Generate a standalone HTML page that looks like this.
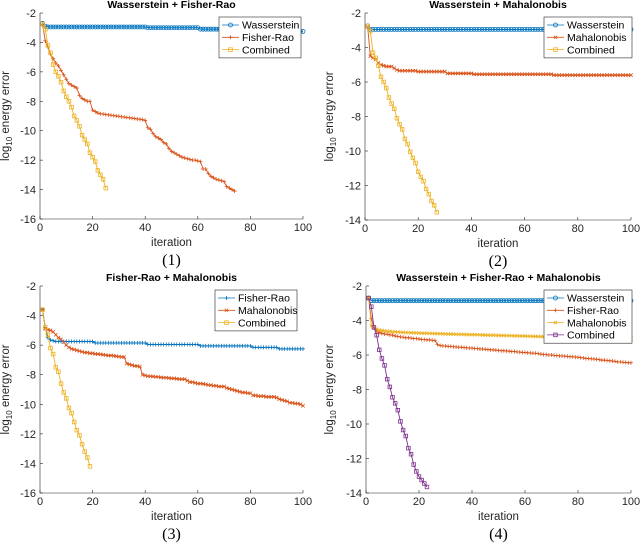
<!DOCTYPE html>
<html><head><meta charset="utf-8"><style>
body{margin:0;background:#fff;width:640px;height:546px;overflow:hidden}
svg{display:block}
text{font-family:"Liberation Sans",sans-serif}
</style></head><body>
<svg id="fig" width="640" height="546" viewBox="0 0 640 546" xmlns="http://www.w3.org/2000/svg"></svg>
<script>
const xTicks=[0,20,40,60,80,100];
const yTicksA=[-2,-4,-6,-8,-10,-12,-14,-16];
const yTicksB=[-2,-4,-6,-8,-10,-12,-14];
function rep(v,n){return Array(n).fill(v);}
// Panel 1
const p1Wass=[-2.7,-2.9].concat(rep(-2.95,38),rep(-3.0,20),rep(-3.1,20),rep(-3.15,10),rep(-3.25,10));
const p1Fisher=[-2.8,-3.9,-4.3,-4.8,-5.1,-5.4,-5.6,-5.9,-6.2,-6.5,-6.8,-6.9,-7.0,-7.1,-7.6,-7.8,-7.9,-8.0,-8.0,-8.6,-8.7,-8.8,-8.85,
-8.87,-8.9,-8.92,-8.95,-8.97,-9.0,-9.02,-9.05,-9.07,-9.1,-9.12,-9.15,-9.17,-9.2,-9.22,-9.25,-9.3,
-9.8,-9.9,-10.2,-10.4,-10.5,-10.6,-10.8,-10.9,-11.2,-11.4,-11.5,-11.6,-11.7,-11.8,-11.85,-11.9,-11.95,-12.0,-12.0,-12.05,-12.1,
-12.6,-12.6,-12.9,-13.1,-13.2,-13.3,-13.35,-13.4,-13.45,-13.8,-13.9,-14.0,-14.1];
const p1Comb=[-2.75,-3.1,-4.2,-4.7,-5.5,-6.0,-6.3,-6.7,-7.3,-7.7,-8.0,-8.4,-9.0,-9.3,-9.7,-10.3,-10.6,-10.9,-11.5,-11.8,-12.1,-12.7,-13.0,-13.3,-13.9];
// Panel 2
const p2Wass=[-2.75].concat(rep(-2.95,99));
const p2Maha=[-2.8,-4.5,-4.6,-4.7,-4.9,-5.0,-5.05,-5.1,-5.1,-5.1,-5.2,-5.3].concat(rep(-5.35,7),rep(-5.4,11),rep(-5.5,10),rep(-5.55,30),rep(-5.6,30));
const p2Comb=[-2.75,-3.05,-4.3,-4.6,-5.05,-5.7,-6.0,-6.35,-6.9,-7.25,-7.55,-8.1,-8.45,-8.75,-9.3,-9.6,-10.05,-10.4,-10.7,-11.2,-11.5,-11.75,-12.2,-12.5,-12.9,-13.15,-13.55];
// Panel 3
const p3Fisher=[-3.6,-4.8,-5.5,-5.65,-5.7].concat(rep(-5.75,15),rep(-5.85,20),rep(-5.95,20),rep(-6.05,20),rep(-6.15,10),rep(-6.25,10));
const p3Maha=[-3.6,-4.9,-4.95,-5.0,-5.1,-5.3,-5.5,-5.6,-5.8,-6.0,-6.15,-6.25,-6.3,-6.35,-6.4,-6.45,-6.5,-6.5,-6.55,
-6.55,-6.6,-6.6,-6.62,-6.65,-6.67,-6.7,-6.7,-6.72,-6.75,-6.77,-6.8,-6.8,
-7.25,-7.3,-7.35,-7.4,-7.42,-7.45,
-8.0,-8.05,-8.1,-8.1,-8.12,-8.15,-8.15,-8.18,-8.2,-8.2,-8.22,-8.25,-8.25,-8.27,-8.3,-8.3,-8.3,
-8.4,-8.5,-8.5,-8.55,-8.6,-8.6,-8.62,-8.65,-8.7,-8.7,-8.75,-8.75,-8.8,-8.8,-8.8,
-8.9,-8.95,-9.0,-9.05,-9.1,-9.15,-9.2,-9.2,-9.25,-9.25,
-9.4,-9.4,-9.45,-9.45,-9.45,-9.5,-9.5,-9.5,-9.5,-9.55,
-9.65,-9.7,-9.75,-9.8,-9.9,-9.9,-9.95,-9.95,-10.0,-10.1];
const p3Comb=[-3.6,-4.8,-5.3,-6.2,-6.6,-7.5,-7.8,-8.6,-9.2,-9.6,-10.25,-10.6,-11.2,-11.75,-12.1,-12.7,-13.2,-13.6,-14.2];
// Panel 4
const p4Wass=[-2.7].concat(rep(-2.85,99));
const p4Fisher=[-2.7,-3.9,-4.4,-4.6,-4.7,-4.75,-4.78,-4.8,-4.83,-4.85,
-4.9,-4.92,-4.95,-4.97,-5.0,-5.0,-5.02,-5.05,-5.05,-5.07,-5.1,-5.1,-5.12,-5.12,-5.15,-5.15,
-5.4,-5.45,-5.47,-5.48,-5.5,-5.5,-5.52,-5.53,-5.55,-5.55,
-5.57,-5.58,-5.6,-5.6,-5.62,-5.63,-5.65,-5.65,-5.67,-5.68,
-5.7,-5.7,-5.72,-5.73,-5.75,-5.75,-5.77,-5.78,-5.8,-5.8,
-5.82,-5.83,-5.85,-5.85,-5.87,-5.88,-5.9,-5.9,-5.92,-5.95,
-5.97,-5.98,-6.0,-6.0,-6.02,-6.03,-6.05,-6.05,-6.07,-6.08,
-6.1,-6.1,-6.12,-6.13,-6.15,-6.17,-6.2,-6.2,-6.22,-6.23,
-6.25,-6.27,-6.3,-6.3,-6.32,-6.33,-6.35,-6.37,-6.4,-6.4,
-6.42,-6.43,-6.45,-6.45];
const p4Maha=[-2.7,-4.3,-4.4,-4.5,-4.55,-4.58,-4.6,-4.62,-4.63,-4.65,
-4.66,-4.67,-4.68,-4.69,-4.7,-4.7,-4.71,-4.72,-4.72,-4.73,
-4.73,-4.74,-4.74,-4.75,-4.75,-4.76,-4.76,-4.77,-4.77,-4.78,
-4.78,-4.79,-4.79,-4.8,-4.8,-4.8,-4.81,-4.81,-4.82,-4.82,
-4.82,-4.83,-4.83,-4.84,-4.84,-4.85,-4.85,-4.85,-4.86,-4.86,
-4.87,-4.87,-4.88,-4.88,-4.88,-4.89,-4.89,-4.9,-4.9,-4.9,
-4.91,-4.91,-4.92,-4.92,-4.93,-4.93,-4.94,-4.94,-4.95,-4.95,
-4.96,-4.96,-4.97,-4.97,-4.98,-4.98,-4.99,-4.99,-5.0,-5.0,
-5.0,-5.01,-5.01,-5.02,-5.02,-5.02,-5.03,-5.03,-5.03,-5.04,
-5.04,-5.04,-5.04,-5.05,-5.05,-5.05,-5.05,-5.06,-5.06,-5.06];
const p4Comb=[-2.7,-3.2,-4.4,-4.85,-5.7,-6.2,-6.6,-7.4,-7.85,-8.45,-8.8,-9.2,-9.85,-10.35,-10.7,-11.4,-11.75,-12.35,-12.75,-13.05,-13.25,-13.45,-13.65];

const BLUE="#0072BD",ORANGE="#D95319",YELLOW="#EDB120",PURPLE="#7E2F8E";
const NS="http://www.w3.org/2000/svg";
const svg=document.getElementById('fig');
function mk(tag,attrs,parent){const e=document.createElementNS(NS,tag);for(const k in attrs)e.setAttribute(k,attrs[k]);(parent||svg).appendChild(e);return e;}

const panels=[
 {id:'1',title:'Wasserstein + Fisher-Rao',L:40,R:303,T:13,B:219,ymin:-16,yticks:yTicksA,ylx:9,
  legend:{x:219,y:17,w:82},
  series:[{n:'Wasserstein',d:p1Wass,c:BLUE,m:'o'},{n:'Fisher-Rao',d:p1Fisher,c:ORANGE,m:'+'},{n:'Combined',d:p1Comb,c:YELLOW,m:'s'}]},
 {id:'2',title:'Wasserstein + Mahalonobis',L:365,R:631,T:13,B:220,ymin:-14,yticks:yTicksB,ylx:333,
  legend:{x:544,y:17,w:88},
  series:[{n:'Wasserstein',d:p2Wass,c:BLUE,m:'o'},{n:'Mahalonobis',d:p2Maha,c:ORANGE,m:'x'},{n:'Combined',d:p2Comb,c:YELLOW,m:'s'}]},
 {id:'3',title:'Fisher-Rao + Mahalonobis',L:40,R:303,T:286,B:493,ymin:-16,yticks:yTicksA,ylx:9,
  legend:{x:215,y:290,w:82},
  series:[{n:'Fisher-Rao',d:p3Fisher,c:BLUE,m:'+'},{n:'Mahalonobis',d:p3Maha,c:ORANGE,m:'x'},{n:'Combined',d:p3Comb,c:YELLOW,m:'s'}]},
 {id:'4',title:'Wasserstein + Fisher-Rao + Mahalonobis',L:366,R:631,T:286,B:493,ymin:-14,yticks:yTicksB,ylx:333,
  legend:{x:544,y:290,w:88},
  series:[{n:'Wasserstein',d:p4Wass,c:BLUE,m:'o'},{n:'Fisher-Rao',d:p4Fisher,c:ORANGE,m:'+'},{n:'Mahalonobis',d:p4Maha,c:YELLOW,m:'x'},{n:'Combined',d:p4Comb,c:PURPLE,m:'s'}]}
];

function marker(g,m,x,y,c){
  let e;
  if(m==='o')e=mk('circle',{cx:x,cy:y,r:2,fill:'none',stroke:c,'stroke-width':0.8},g);
  else if(m==='s')e=mk('rect',{x:x-1.8,y:y-1.8,width:3.6,height:3.6,fill:'none',stroke:c,'stroke-width':0.8},g);
  else if(m==='+')e=mk('path',{d:`M${x-2},${y}H${x+2}M${x},${y-2}V${y+2}`,stroke:c,'stroke-width':0.8},g);
  else e=mk('path',{d:`M${x-1.7},${y-1.7}L${x+1.7},${y+1.7}M${x-1.7},${y+1.7}L${x+1.7},${y-1.7}`,stroke:c,'stroke-width':0.8},g);
  
  
}

panels.forEach(p=>{
  const g=mk('g',{});
  
  
  const xs=v=>p.L+(v-0)/100*(p.R-p.L);
  const ys=v=>p.T+(-2-v)/(-2-p.ymin)*(p.B-p.T);
  const ax=mk('path',{d:`M${p.L},${p.T}V${p.B}H${p.R}`,fill:'none',stroke:'#262626','stroke-width':0.6},g);
  
  
  xTicks.forEach(t=>{
    const x=xs(t);
    mk('line',{x1:x,y1:p.B,x2:x,y2:p.B-3,stroke:'#262626','stroke-width':0.6},g);
    const tx=mk('text',{x:x,y:p.B+12,'text-anchor':'middle','font-size':11,fill:'#262626'},g);
    tx.textContent=t;
    
    
  });
  p.yticks.forEach(t=>{
    const y=ys(t);
    mk('line',{x1:p.L,y1:y,x2:p.L+3,y2:y,stroke:'#262626','stroke-width':0.6},g);
    const tx=mk('text',{x:p.L-4,y:y+4,'text-anchor':'end','font-size':11,fill:'#262626'},g);
    tx.textContent=t;
    
    
  });
  const ti=mk('text',{x:(p.L+p.R)/2,y:p.T-5,'text-anchor':'middle','font-size':10.5,'font-weight':'bold',fill:'#000'},g);
  ti.textContent=p.title;
  
  
  const xl=mk('text',{x:(p.L+p.R)/2,y:p.B+27,'text-anchor':'middle','font-size':11.5,fill:'#262626'},g);
  xl.textContent='iteration';
  
  
  const cy=(p.T+p.B)/2;
  const yl=mk('text',{x:0,y:0,'text-anchor':'middle','font-size':11.5,fill:'#262626',transform:`translate(${p.ylx},${cy}) rotate(-90)`},g);
  yl.innerHTML='log<tspan font-size="8" dy="3">10</tspan><tspan dy="-3"> energy error</tspan>';
  
  
  const cap=mk('text',{x:(p.L+p.R)/2,y:p.B+46,'text-anchor':'middle',fill:'#000',style:'font-family:"Liberation Serif",serif;font-size:16px'},g);
  cap.textContent='('+p.id+')';
  
  
  p.series.forEach(s=>{
    const sg=mk('g',{},g);
    
    
    const pts=s.d.map((v,i)=>xs(i+1).toFixed(2)+','+ys(v).toFixed(2)).join(' ');
    const pl=mk('polyline',{points:pts,fill:'none',stroke:s.c,'stroke-width':0.9},sg);
    
    
    s.d.forEach((v,i)=>marker(sg,s.m,xs(i+1),ys(v),s.c));
  });
  const lg=mk('g',{},g);
  
  
  const h=p.series.length*12.3+4;
  mk('rect',{x:p.legend.x,y:p.legend.y,width:p.legend.w,height:h,fill:'#fff',stroke:'#262626','stroke-width':0.6},lg);
  p.series.forEach((s,i)=>{
    const ly=p.legend.y+8+i*12.3;
    const e=mk('g',{},lg);
    
    
    mk('line',{x1:p.legend.x+3,y1:ly,x2:p.legend.x+20,y2:ly,stroke:s.c,'stroke-width':0.8},e);
    marker(e,s.m,p.legend.x+11.5,ly,s.c);
    const t=mk('text',{x:p.legend.x+23,y:ly+3.7,'font-size':10.5,fill:'#000'},e);
    t.textContent=s.n;
  });
});
</script>
</body></html>
